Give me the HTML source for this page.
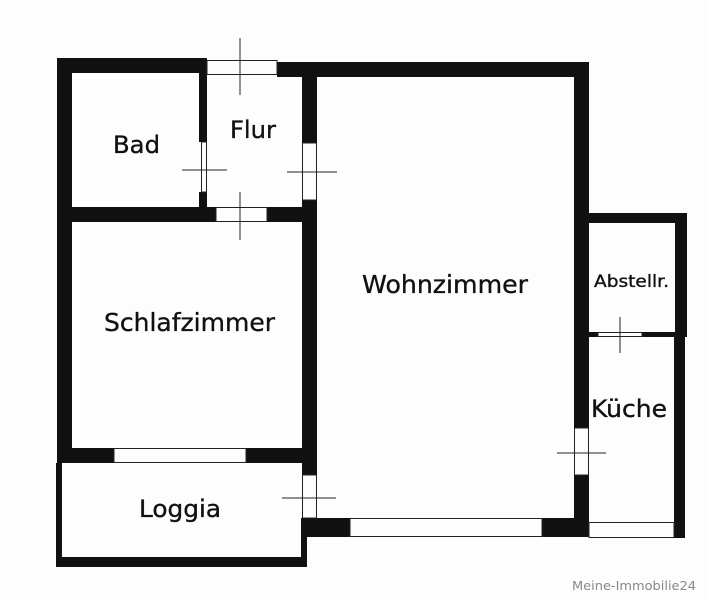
<!DOCTYPE html>
<html><head><meta charset="utf-8"><style>
html,body{margin:0;padding:0;background:#fff;}
svg{display:block;}
text{font-family:"DejaVu Sans","Liberation Sans",sans-serif;fill:#111;stroke:#111;stroke-width:0.35;}
</style></head><body>
<svg width="706" height="600" viewBox="0 0 706 600" xmlns="http://www.w3.org/2000/svg">
<rect width="706" height="600" fill="#fdfdfd"/>
<g fill="#111">
<rect x="57" y="58" width="15" height="405"/>
<rect x="57" y="58" width="150" height="15"/>
<rect x="277" y="62" width="312" height="15"/>
<rect x="199" y="73" width="8" height="69"/>
<rect x="199" y="192" width="8" height="20"/>
<rect x="302" y="77" width="15" height="66"/>
<rect x="302" y="200" width="15" height="275"/>
<rect x="57" y="207" width="159" height="15"/>
<rect x="267" y="207" width="50" height="15"/>
<rect x="57" y="448" width="57" height="15"/>
<rect x="246" y="448" width="71" height="15"/>
<rect x="56" y="463" width="6" height="104"/>
<rect x="56" y="557" width="251" height="10"/>
<rect x="301" y="518" width="6" height="49"/>
<rect x="302" y="518" width="48" height="19"/>
<rect x="542" y="518" width="47" height="19"/>
<rect x="574" y="62" width="15" height="366"/>
<rect x="574" y="475" width="15" height="62"/>
<rect x="589" y="213" width="98" height="10"/>
<rect x="675" y="213" width="12" height="124"/>
<rect x="674" y="337" width="11" height="201"/>
<rect x="589" y="332" width="9" height="5"/>
<rect x="642" y="332" width="33" height="5"/>
</g>
<g fill="none" stroke="#222" stroke-width="1">
<rect x="207" y="60.5" width="70" height="14"/>
<rect x="201.5" y="142" width="5" height="50"/>
<rect x="302.5" y="143" width="14" height="57"/>
<rect x="216" y="207.5" width="51" height="14"/>
<rect x="114" y="448.5" width="132" height="14"/>
<rect x="302.5" y="475" width="14" height="43"/>
<rect x="350" y="518.5" width="192" height="18"/>
<rect x="574.5" y="428" width="14" height="47"/>
<rect x="589" y="522.5" width="85" height="15"/>
<rect x="598" y="332.5" width="44" height="4"/>
<path d="M240 38V95 M182 170H227 M287 172H337 M240 192V240 M282 498H336 M557 453H606 M620 317V353"/>
</g>
<text x="113" y="153" font-size="24" textLength="47" lengthAdjust="spacingAndGlyphs">Bad</text>
<text x="230" y="138" font-size="24" textLength="46" lengthAdjust="spacingAndGlyphs">Flur</text>
<text x="362" y="293" font-size="25" textLength="166" lengthAdjust="spacingAndGlyphs">Wohnzimmer</text>
<text x="104" y="331" font-size="25" textLength="171" lengthAdjust="spacingAndGlyphs">Schlafzimmer</text>
<text x="594" y="287" font-size="17" textLength="75" lengthAdjust="spacingAndGlyphs">Abstellr.</text>
<text x="591" y="417" font-size="24" textLength="76" lengthAdjust="spacingAndGlyphs">Küche</text>
<text x="139" y="517" font-size="24" textLength="82" lengthAdjust="spacingAndGlyphs">Loggia</text>
<text x="572" y="590" font-size="12" style="fill:#888;stroke:none" textLength="124" lengthAdjust="spacingAndGlyphs">Meine-Immobilie24</text>
</svg>
</body></html>
